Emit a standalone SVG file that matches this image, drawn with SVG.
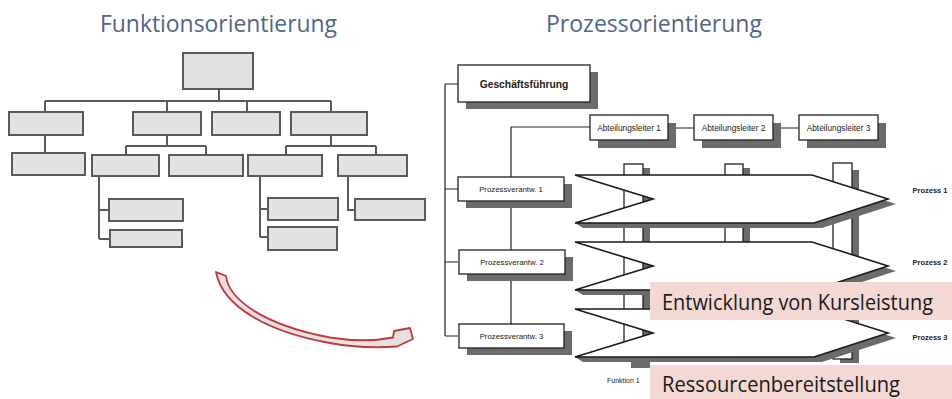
<svg xmlns="http://www.w3.org/2000/svg" width="952" height="399" viewBox="0 0 952 399">
<style>
.fb{fill:#e2e2e2;stroke:#5a5a5a;stroke-width:2}
.fl{fill:none;stroke:#5a5a5a;stroke-width:2}
.ttl{font-family:"Open Sans","Liberation Sans",sans-serif;font-size:23px;fill:#50668a}
.rb{fill:#fff;stroke:#222;stroke-width:1.3}
.sh{fill:#6b6b6b}
.rl{fill:none;stroke:#222;stroke-width:1.2}
.lab{font-family:"Liberation Sans",Arial,sans-serif;fill:#222;text-anchor:middle}
.arr{fill:#fff;stroke:#1a1a1a;stroke-width:1.6;stroke-linejoin:miter}
.pink{fill:#f3d8d4}
.big{font-family:"Open Sans","Noto Sans",sans-serif;font-size:21px;fill:#1a1a1a}
</style>
<rect width="952" height="399" fill="#fff"/>

<!-- Titles -->
<text class="ttl" x="100" y="32" textLength="237" lengthAdjust="spacingAndGlyphs">Funktionsorientierung</text>
<text class="ttl" x="546" y="32" textLength="216" lengthAdjust="spacingAndGlyphs">Prozessorientierung</text>

<!-- Left chart connectors -->
<g id="left-connectors" class="fl">
<path d="M219,89V101M45,101H331M45,101V112M167,101V112M247,101V112M331,101V112"/>
<path d="M45,135V153"/>
<path d="M167,135V146M126,146H206M126,146V155M206,146V155"/>
<path d="M331,135V146M286,146H376M286,146V155M376,146V155"/>
<path d="M99,176V239M99,210H109M99,239H110"/>
<path d="M260,176V237M260,209H268M260,237H268"/>
<path d="M348,176V210H355"/>
</g>

<!-- Left chart nodes -->
<g id="f-top"><rect class="fb" x="183" y="53" width="70" height="36"/></g>
<g id="f-a"><rect class="fb" x="9" y="112" width="74" height="23"/></g>
<g id="f-b"><rect class="fb" x="133" y="112" width="68" height="23"/></g>
<g id="f-c"><rect class="fb" x="212" y="112" width="68" height="23"/></g>
<g id="f-d"><rect class="fb" x="291" y="112" width="76" height="23"/></g>
<g id="f-a1"><rect class="fb" x="12" y="153" width="73" height="22"/></g>
<g id="f-b1"><rect class="fb" x="92" y="155" width="67" height="21"/></g>
<g id="f-b2"><rect class="fb" x="169" y="155" width="74" height="21"/></g>
<g id="f-d1"><rect class="fb" x="248" y="155" width="74" height="21"/></g>
<g id="f-d2"><rect class="fb" x="338" y="155" width="69" height="21"/></g>
<g id="f-b1a"><rect class="fb" x="109" y="199" width="74" height="22"/></g>
<g id="f-b1b"><rect class="fb" x="110" y="230" width="72" height="17"/></g>
<g id="f-d1a"><rect class="fb" x="268" y="198" width="70" height="22"/></g>
<g id="f-d1b"><rect class="fb" x="268" y="227" width="69" height="23"/></g>
<g id="f-d2a"><rect class="fb" x="355" y="199" width="70" height="21"/></g>

<!-- Red curved arrow -->
<g id="transition-arrow">
<path d="M216,272 L226,276 C229,300 264,325 330,337.5 C355,341.5 375,341 393,337.5 L394,331 L410,328 L413,339 L397,346.5 C370,348.5 345,346 327,342.5 C270,332 223,308 216,272 Z" fill="#e6e1e0" stroke="#c0393b" stroke-width="1.8" stroke-linejoin="round"/>
</g>

<!-- Right side connectors -->
<g id="right-connectors" class="rl">
<path d="M445,84V336M445,84H458M445,189H458M445,262H458M445,336H458"/>
<path d="M511,127V324M511,127H590"/>
<path d="M668,128H694M773,128H799"/>
</g>

<!-- Right side nodes -->
<g id="gf"><rect class="sh" x="466" y="72" width="132" height="37"/><rect class="rb" x="458" y="65" width="132" height="37"/><text class="lab" x="524" y="88" font-size="10.3" font-weight="bold">Geschäftsführung</text></g>
<g id="al1"><rect class="sh" x="598" y="123" width="78" height="25"/><rect class="rb" x="590" y="115" width="78" height="25"/><text class="lab" x="629" y="131" font-size="8.3">Abteilungsleiter 1</text></g>
<g id="al2"><rect class="sh" x="702" y="123" width="79" height="25"/><rect class="rb" x="694" y="115" width="79" height="25"/><text class="lab" x="733.5" y="131" font-size="8.3">Abteilungsleiter 2</text></g>
<g id="al3"><rect class="sh" x="807" y="123" width="79" height="25"/><rect class="rb" x="799" y="115" width="79" height="25"/><text class="lab" x="838.5" y="131" font-size="8.3">Abteilungsleiter 3</text></g>
<g id="pv1"><rect class="sh" x="466" y="184" width="106" height="24"/><rect class="rb" x="458" y="177" width="106" height="24"/><text class="lab" x="511" y="192" font-size="7.8">Prozessverantw. 1</text></g>
<g id="pv2"><rect class="sh" x="467" y="257" width="106" height="24"/><rect class="rb" x="459" y="250" width="106" height="24"/><text class="lab" x="512" y="265" font-size="7.8">Prozessverantw. 2</text></g>
<g id="pv3"><rect class="sh" x="467" y="331" width="105" height="24"/><rect class="rb" x="459" y="324" width="105" height="24"/><text class="lab" x="511.5" y="339" font-size="7.8">Prozessverantw. 3</text></g>

<!-- Function columns -->
<g id="columns">
<rect class="sh" x="631" y="168" width="19" height="200"/>
<rect class="rb" x="624" y="164" width="19" height="196"/>
<rect class="sh" x="732" y="168" width="18" height="190"/>
<rect class="rb" x="725" y="164" width="18" height="190"/>
<rect class="sh" x="840" y="170" width="19" height="193"/>
<rect class="rb" x="833" y="163" width="19" height="196"/>
</g>

<!-- Process arrows -->
<g id="p1"><polygon class="sh" points="575,223 653,199 820,180 896,204 822,228 583,228"/><polygon class="arr" points="575,175 812,175 888,199 814,223 575,223 653,199"/><text class="lab" x="930" y="193" font-size="7.5" font-weight="bold">Prozess 1</text></g>
<g id="p2"><polygon class="sh" points="575,290 653,266 820,247 896,271 822,295 583,295"/><polygon class="arr" points="575,242 812,242 888,266 814,290 575,290 653,266"/><text class="lab" x="930" y="265" font-size="7.5" font-weight="bold">Prozess 2</text></g>
<g id="p3"><polygon class="sh" points="575,357 653,333 820,314 896,338 822,362 583,362"/><polygon class="arr" points="575,309 812,309 888,333 814,357 575,357 653,333"/><text class="lab" x="930" y="340" font-size="7.5" font-weight="bold">Prozess 3</text></g>

<text id="funktion1" x="607" y="383" font-family="Liberation Sans,Arial,sans-serif" font-size="7" fill="#222">Funktion 1</text>

<!-- Pink labels -->
<g id="label-entwicklung"><rect class="pink" x="650" y="282" width="302" height="38"/><text class="big" x="662" y="310" textLength="271" lengthAdjust="spacingAndGlyphs">Entwicklung von Kursleistung</text></g>
<g id="label-ressourcen"><rect class="pink" x="650" y="365" width="302" height="34"/><text class="big" x="662" y="392" textLength="238" lengthAdjust="spacingAndGlyphs">Ressourcenbereitstellung</text></g>
</svg>
